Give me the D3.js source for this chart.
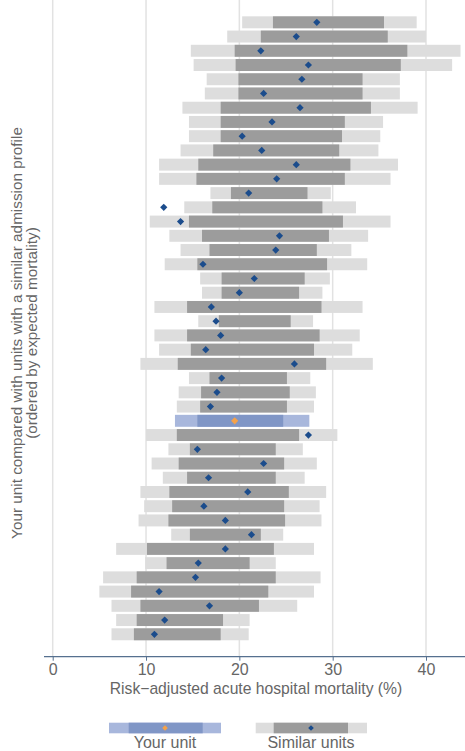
<!DOCTYPE html>
<html>
<head>
<meta charset="utf-8">
<script src="https://cdn.jsdelivr.net/npm/d3@7"></script>
<style>
  body { margin: 0; background: #fff; }
  svg { display: block; font-family: "Liberation Sans", Arial, sans-serif; }
</style>
</head>
<body>
<div id="chart"></div>
<script>
// rows ordered by expected mortality (top = highest)
const lightLo = [20.3, 18.7, 14.8, 15.1, 16.5, 16.3, 13.9, 14.6, 14.6, 13.7, 11.4,
                 11.4, 16.9, 14.1, 10.4, 12.5, 13.7, 12.0, 15.8, 16.0, 10.9, 15.6,
                 10.9, 11.4, 9.4, 14.6, 13.5, 13.3, 13.1, 10.0, 12.4, 10.6, 11.8,
                 9.4, 9.8, 9.2, 12.7, 6.8, 9.9, 5.4, 5.0, 6.3, 6.8, 6.3];
const lightHi = [39.0, 40.0, 43.7, 42.8, 37.2, 37.2, 39.1, 35.4, 35.1, 34.9, 37.0,
                 36.2, 29.8, 32.5, 36.2, 33.8, 32.0, 33.7, 29.7, 28.9, 33.2, 27.9,
                 32.9, 32.1, 34.3, 27.6, 28.2, 28.0, 27.5, 30.5, 26.8, 28.3, 27.0,
                 29.3, 28.6, 28.8, 24.7, 28.0, 23.9, 28.7, 28.0, 26.2, 21.1, 21.0];
const darkLo = [23.6, 22.3, 19.5, 19.6, 19.9, 19.9, 18.0, 18.0, 18.0, 17.2, 15.6,
                15.4, 19.1, 17.1, 14.6, 16.0, 16.8, 15.5, 18.1, 18.1, 14.4, 17.8,
                14.4, 14.8, 13.4, 16.8, 15.9, 15.8, 15.5, 13.3, 14.7, 13.5, 14.4,
                12.5, 12.8, 12.4, 14.7, 10.1, 12.2, 9.0, 8.4, 9.4, 9.0, 8.7];
const darkHi = [35.5, 35.9, 38.0, 37.3, 33.2, 33.2, 34.1, 31.3, 31.0, 30.7, 31.9,
                31.3, 27.3, 28.9, 31.1, 29.6, 28.3, 29.4, 27.0, 26.4, 28.8, 25.5,
                28.6, 28.0, 29.3, 25.1, 25.4, 25.1, 24.7, 26.4, 23.9, 24.8, 23.9,
                25.3, 24.8, 24.9, 22.3, 23.7, 21.1, 23.9, 23.1, 22.1, 18.25, 18.0];
const observed = [28.3, 26.1, 22.3, 27.4, 26.7, 22.6, 26.5, 23.5, 20.3, 22.4, 26.1,
                  24.0, 21.0, 11.9, 13.7, 24.3, 23.9, 16.1, 21.6, 20.0, 17.0, 17.5,
                  18.0, 16.4, 25.9, 18.1, 17.6, 16.9, 19.5, 27.4, 15.5, 22.6, 16.7,
                  20.9, 16.2, 18.5, 21.3, 18.5, 15.6, 15.3, 11.4, 16.8, 12.0, 10.9];
const yourRow = 28; // index of "your unit"
const xTicks = [0, 10, 20, 30, 40];

const rows = observed.map((v, i) => ({
    i: i,
    lightLo: lightLo[i], lightHi: lightHi[i],
    darkLo: darkLo[i], darkHi: darkHi[i],
    obs: v, mine: i === yourRow
}));

const width = 465, height = 751;
const axisY = 656.7;

const col = {
    light: "#dddddd", dark: "#9c9c9c", diamond: "#1b4c8c",
    mineLight: "#a8b7dc", mineDark: "#8096c6", orange: "#f5a24a",
    grid: "#e2e2e2", axis: "#56708f", text: "#666666"
};

const svg = d3.select("#chart").append("svg")
    .attr("width", width)
    .attr("height", height);

const x = d3.scaleLinear().domain([0, 40]).range([52.7, 426]);
const y = d3.scaleBand()
    .domain(rows.map(d => d.i))
    .range([15.2, 641.4])
    .paddingInner(0.16)
    .paddingOuter(0.08);

// gridlines
svg.append("g").selectAll("line")
    .data(xTicks)
    .enter().append("line")
    .attr("x1", d => x(d)).attr("x2", d => x(d))
    .attr("y1", 0).attr("y2", axisY)
    .attr("stroke", col.grid)
    .attr("stroke-width", 1.5);

const g = svg.append("g");

g.selectAll(".lt")
    .data(rows)
    .enter().append("rect")
    .attr("x", d => x(d.lightLo))
    .attr("width", d => x(d.lightHi) - x(d.lightLo))
    .attr("y", d => y(d.i))
    .attr("height", y.bandwidth())
    .attr("fill", d => d.mine ? col.mineLight : col.light);

g.selectAll(".dk")
    .data(rows)
    .enter().append("rect")
    .attr("x", d => x(d.darkLo))
    .attr("width", d => x(d.darkHi) - x(d.darkLo))
    .attr("y", d => y(d.i))
    .attr("height", y.bandwidth())
    .attr("fill", d => d.mine ? col.mineDark : col.dark);

const diamond = d3.symbol().type(d3.symbolSquare).size(26);
g.selectAll(".pt")
    .data(rows)
    .enter().append("path")
    .attr("d", diamond)
    .attr("transform", d => `translate(${x(d.obs)},${y(d.i) + y.bandwidth() / 2}) rotate(45)`)
    .attr("fill", d => d.mine ? col.orange : col.diamond);

// x axis
const ax = svg.append("g")
    .attr("transform", `translate(0,${axisY})`)
    .call(d3.axisBottom(x).tickValues(xTicks).tickSize(4).tickPadding(3));
ax.select(".domain").remove();
ax.insert("line", ":first-child")
    .attr("x1", 44).attr("x2", width)
    .attr("stroke", col.axis).attr("stroke-width", 1.3);
ax.selectAll(".tick line").attr("stroke", col.axis);
ax.selectAll(".tick text")
    .attr("fill", col.text)
    .style("font-size", "16px")
    .style("font-family", "Liberation Sans, Arial, sans-serif");

svg.append("text")
    .attr("x", 256)
    .attr("y", 694)
    .attr("text-anchor", "middle")
    .attr("fill", col.text)
    .style("font-size", "15.7px")
    .text("Risk\u2212adjusted acute hospital mortality (%)");

// y title
const yt = svg.append("text")
    .attr("transform", "translate(21.5,333) rotate(-90)")
    .attr("text-anchor", "middle")
    .attr("fill", col.text)
    .style("font-size", "15.3px");
yt.append("tspan").attr("x", 0).attr("y", 0)
    .text("Your unit compared with units with a similar admission profile");
yt.append("tspan").attr("x", 0).attr("y", 15.5)
    .text("(ordered by expected mortality)");

// legend
const legend = [
    { label: "Your unit", lo: 109, dlo: 128.7, dhi: 202.7, hi: 221, pt: 165, light: col.mineLight, dark: col.mineDark, dot: col.orange },
    { label: "Similar units", lo: 255.7, dlo: 273.7, dhi: 348, hi: 367, pt: 311, light: col.light, dark: col.dark, dot: col.diamond }
];
const lg = svg.append("g").selectAll("g")
    .data(legend)
    .enter().append("g");
lg.append("rect")
    .attr("x", d => d.lo).attr("width", d => d.hi - d.lo)
    .attr("y", 722.7).attr("height", 10.6)
    .attr("fill", d => d.light);
lg.append("rect")
    .attr("x", d => d.dlo).attr("width", d => d.dhi - d.dlo)
    .attr("y", 722.7).attr("height", 10.6)
    .attr("fill", d => d.dark);
lg.append("path")
    .attr("d", d3.symbol().type(d3.symbolSquare).size(16))
    .attr("transform", d => `translate(${d.pt},728) rotate(45)`)
    .attr("fill", d => d.dot);
lg.append("text")
    .attr("x", d => d.pt)
    .attr("y", 748)
    .attr("text-anchor", "middle")
    .attr("fill", col.text)
    .style("font-size", "16px")
    .text(d => d.label);
</script>
</body>
</html>
